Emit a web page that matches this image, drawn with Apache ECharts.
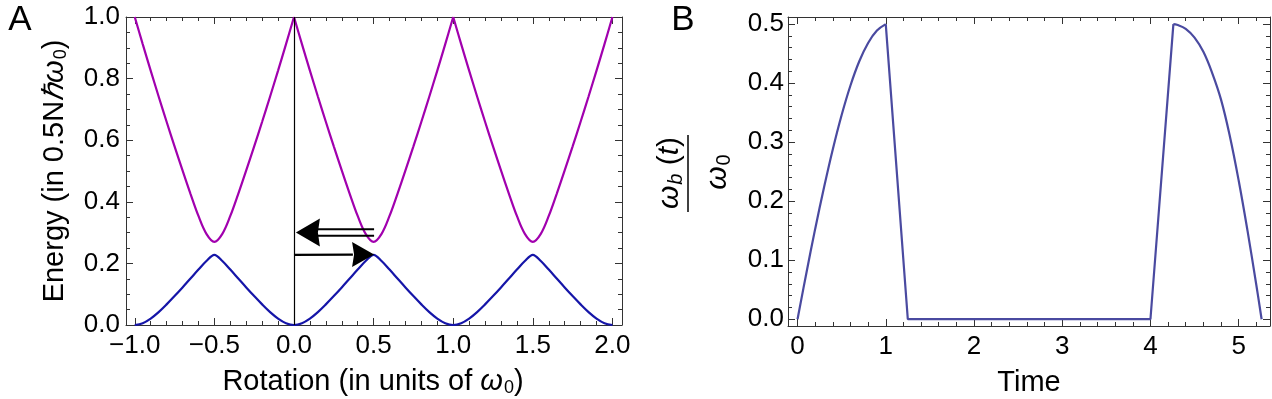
<!DOCTYPE html>
<html><head><meta charset="utf-8">
<script src="https://cdn.jsdelivr.net/npm/echarts@6.0.0/dist/echarts.min.js"></script>
<style>html,body{margin:0;padding:0;background:#fff}#c{width:1272px;height:399px}</style>
</head><body><div id="c"></div>
<script>
// ---------- Panel A data (Rotation vs Energy) ----------
const rotX = [-1.00,-0.95,-0.90,-0.85,-0.80,-0.75,-0.70,-0.65,-0.60,-0.55,
  -0.50,-0.45,-0.40,-0.35,-0.30,-0.25,-0.20,-0.15,-0.10,-0.05,
  0.00,0.05,0.10,0.15,0.20,0.25,0.30,0.35,0.40,0.45,
  0.50,0.55,0.60,0.65,0.70,0.75,0.80,0.85,0.90,0.95,
  1.00,1.05,1.10,1.15,1.20,1.25,1.30,1.35,1.40,1.45,
  1.50,1.55,1.60,1.65,1.70,1.75,1.80,1.85,1.90,1.95,2.00];
const upperBand = [1.0,0.912,0.826,0.742,0.66,0.58,0.502,0.426,0.354,0.296,
  0.27,0.296,0.354,0.426,0.502,0.58,0.66,0.742,0.826,0.912,
  1.0,0.912,0.826,0.742,0.66,0.58,0.502,0.426,0.354,0.296,
  0.27,0.296,0.354,0.426,0.502,0.58,0.66,0.742,0.826,0.912,
  1.0,0.912,0.826,0.742,0.66,0.58,0.502,0.426,0.354,0.296,
  0.27,0.296,0.354,0.426,0.502,0.58,0.66,0.742,0.826,0.912,1.0];
const lowerBand = [0,0.006,0.021,0.042,0.067,0.094,0.122,0.151,0.18,0.208,
  0.228,0.208,0.18,0.151,0.122,0.094,0.067,0.042,0.021,0.006,
  0,0.006,0.021,0.042,0.067,0.094,0.122,0.151,0.18,0.208,
  0.228,0.208,0.18,0.151,0.122,0.094,0.067,0.042,0.021,0.006,
  0,0.006,0.021,0.042,0.067,0.094,0.122,0.151,0.18,0.208,
  0.228,0.208,0.18,0.151,0.122,0.094,0.067,0.042,0.021,0.006,0];
// upper band has sharp cusps at integer rotation: drawn piecewise between them
const upperCusps = [-1, 0, 1, 2];
// arrows (data coordinates)
const arrowLeftShaftA = [[0.13,0.311],[0.503,0.311]];
const arrowLeftShaftB = [[0.13,0.290],[0.503,0.290]];
const arrowLeftTip = [[0.012,0.300]];
const arrowRightShaft = [[0.0,0.2276],[0.37,0.2285]];
const arrowRightTip = [[0.503,0.229]];
const aXTicks = [-1,-0.5,0,0.5,1,1.5,2];
const aYTicks = [0,0.2,0.4,0.6,0.8,1.0];

// ---------- Panel B data (Time vs omega_b/omega_0) ----------
const timeRise = [0,0.1,0.2,0.3,0.4,0.5,0.6,0.7,0.8,0.9,1.0];
const valRise  = [0,0.078,0.153,0.223,0.288,0.346,0.396,0.437,0.468,0.489,0.5];
const timeFlat = [1.0,1.25,4.0,4.26];
const valFlat  = [0.5,0,0,0.5];
const timeFall = [4.26,4.3,4.4,4.5,4.6,4.7,4.8,4.9,5.0,5.1,5.2,5.26];
const valFall  = [0.5,0.499,0.492,0.477,0.453,0.417,0.372,0.31,0.235,0.15,0.058,0];
const bXTicks = [0,1,2,3,4,5];
const bYTicks = [0,0.1,0.2,0.3,0.4,0.5];

// ---------- helpers ----------
const FONT = 'Liberation Sans, Arial, Helvetica, sans-serif';
const FRAME = '#333';
const zip = (xs, ys) => xs.map((x, i) => [x, ys[i]]);
function steps(a, b, s, skip) {
  const out = [];
  const n = Math.round((b - a) / s);
  for (let i = 0; i <= n; i++) {
    const v = +(a + i * s).toFixed(4);
    if (!skip.some(m => Math.abs(m - v) < 1e-6)) out.push(v);
  }
  return out;
}
function axisSet(dim, grid, min, max, majors, minors, fmt, margin) {
  const pos = dim === 'x' ? ['bottom', 'top'] : ['left', 'right'];
  const base = {type: 'value', gridIndex: grid, min: min, max: max, splitLine: {show: false}};
  const axes = [];
  pos.forEach((p, k) => {
    axes.push(Object.assign({}, base, {
      position: p,
      axisLine: {show: true, onZero: false, lineStyle: {color: FRAME, width: 1}},
      axisTick: {show: true, inside: true, length: 7, customValues: majors, lineStyle: {color: FRAME, width: 1}},
      axisLabel: k === 0 ? {show: true, customValues: majors, formatter: fmt, fontSize: 26,
        fontFamily: FONT, color: '#000', margin: margin} : {show: false}
    }));
    axes.push(Object.assign({}, base, {
      position: p,
      axisLine: {show: false, onZero: false},
      axisTick: {show: true, inside: true, length: 4, customValues: minors, lineStyle: {color: FRAME, width: 1}},
      axisLabel: {show: false}
    }));
  });
  return axes;
}
const f1 = v => (v < 0 ? '\u2212' : '') + Math.abs(v).toFixed(1);
const f0 = v => String(Math.round(v));

const xAxes = [].concat(
  axisSet('x', 0, -1.055, 2.06, aXTicks, steps(-1, 2, 0.1, aXTicks), f1, 8),
  axisSet('x', 1, -0.108, 5.355, bXTicks, steps(0, 5.2, 0.2, bXTicks), f0, 8)
);
const yAxes = [].concat(
  axisSet('y', 0, 0, 1, aYTicks, steps(0, 1, 0.05, aYTicks), f1, 6),
  axisSet('y', 1, -0.0115, 0.512, bYTicks, steps(0, 0.5, 0.02, bYTicks), f1, 4)
);

const leftHead = 'path://M24,0L0,14L24,28L22,14Z';
const rightHead = 'path://M0,0L22,12.5L0,25L2,12.5Z';
const TS = 29;
const sub = {fontSize: 18, fontFamily: FONT, fill: '#000', padding: [12, 0, 0, 1]};
const ital = {fontSize: TS, fontFamily: FONT, fontStyle: 'italic', fill: '#000'};

const upperPts = zip(rotX, upperBand);
const upperSeries = [];
for (let k = 0; k < upperCusps.length - 1; k++) {
  const seg = upperPts.filter(p => p[0] >= upperCusps[k] - 1e-9 && p[0] <= upperCusps[k + 1] + 1e-9);
  const s = {type: 'line', xAxisIndex: 0, yAxisIndex: 0, data: seg, showSymbol: false,
    smooth: 0.35, lineStyle: {color: '#A100AE', width: 2.2}, z: 3};
  if (k === 0) {
    s.markLine = {silent: true, symbol: 'none', label: {show: false},
      lineStyle: {color: '#000', width: 1.2, type: 'solid'}, data: [{xAxis: 0}]};
  }
  upperSeries.push(s);
}

const option = {
  animation: false,
  backgroundColor: '#fff',
  grid: [
    {left: 126, top: 17, width: 496, height: 308},
    {left: 788, top: 17, width: 482, height: 309}
  ],
  xAxis: xAxes,
  yAxis: yAxes,
  series: upperSeries.concat([
    {type: 'line', xAxisIndex: 0, yAxisIndex: 0, data: zip(rotX, lowerBand), showSymbol: false,
     smooth: 0.35, lineStyle: {color: '#1515A8', width: 2.2}, z: 3},
    {type: 'line', xAxisIndex: 0, yAxisIndex: 0, data: arrowLeftShaftA, showSymbol: false,
     lineStyle: {color: '#000', width: 2}, z: 4},
    {type: 'line', xAxisIndex: 0, yAxisIndex: 0, data: arrowLeftShaftB, showSymbol: false,
     lineStyle: {color: '#000', width: 2}, z: 4},
    {type: 'line', xAxisIndex: 0, yAxisIndex: 0, data: arrowRightShaft, showSymbol: false,
     lineStyle: {color: '#000', width: 2.2}, z: 4},
    {type: 'scatter', xAxisIndex: 0, yAxisIndex: 0, data: arrowLeftTip, symbol: leftHead,
     symbolSize: [24, 28], symbolOffset: [12, 0], itemStyle: {color: '#000', opacity: 1}, z: 5, silent: true},
    {type: 'scatter', xAxisIndex: 0, yAxisIndex: 0, data: arrowRightTip, symbol: rightHead,
     symbolSize: [22, 25], symbolOffset: [-11, 0], itemStyle: {color: '#000', opacity: 1}, z: 5, silent: true},
    {type: 'line', xAxisIndex: 4, yAxisIndex: 4, data: zip(timeRise, valRise), showSymbol: false,
     smooth: 0.4, lineStyle: {color: '#4A4AA0', width: 2.2}},
    {type: 'line', xAxisIndex: 4, yAxisIndex: 4, data: zip(timeFlat, valFlat), showSymbol: false,
     lineStyle: {color: '#4A4AA0', width: 2.2}},
    {type: 'line', xAxisIndex: 4, yAxisIndex: 4, data: zip(timeFall, valFall), showSymbol: false,
     smooth: 0.4, lineStyle: {color: '#4A4AA0', width: 2.2}}
  ]),
  graphic: [
    {type: 'text', x: 20, y: 20, style: {text: 'A', fontSize: 35, fontFamily: FONT, fill: '#000', align: 'center', verticalAlign: 'middle'}},
    {type: 'text', x: 683, y: 20, style: {text: 'B', fontSize: 35, fontFamily: FONT, fill: '#000', align: 'center', verticalAlign: 'middle'}},
    {type: 'text', x: 55, y: 171, rotation: Math.PI / 2,
     style: {text: 'Energy (in 0.5N{i|\u210F\u03C9}{s|0})', fontSize: TS, fontFamily: FONT, fill: '#000',
       align: 'center', verticalAlign: 'middle', rich: {i: ital, s: sub}}},
    {type: 'text', x: 373, y: 382,
     style: {text: 'Rotation (in units of {i|\u03C9}{s|0})', fontSize: TS, fontFamily: FONT, fill: '#000',
       align: 'center', verticalAlign: 'middle', rich: {i: ital, s: sub}}},
    {type: 'text', x: 1029, y: 383,
     style: {text: 'Time', fontSize: TS, fontFamily: FONT, fill: '#000', align: 'center', verticalAlign: 'middle'}},
    {type: 'text', x: 670, y: 173, rotation: Math.PI / 2,
     style: {text: '{i|\u03C9}{b|b}{n| (}{i|t}{n|)}', fontSize: 30, fontFamily: FONT, fill: '#000',
       align: 'center', verticalAlign: 'middle',
       rich: {i: {fontSize: 30, fontFamily: FONT, fontStyle: 'italic', fill: '#000'},
              b: {fontSize: 20, fontFamily: FONT, fontStyle: 'italic', fill: '#000', padding: [13, 0, 0, 1]},
              n: {fontSize: 30, fontFamily: FONT, fill: '#000'}}}},
    {type: 'line', shape: {x1: 688, y1: 135, x2: 688, y2: 212}, style: {stroke: '#000', lineWidth: 1.5}},
    {type: 'text', x: 718, y: 172, rotation: Math.PI / 2,
     style: {text: '{i|\u03C9}{s|0}', fontSize: 30, fontFamily: FONT, fill: '#000',
       align: 'center', verticalAlign: 'middle',
       rich: {i: {fontSize: 30, fontFamily: FONT, fontStyle: 'italic', fill: '#000'},
              s: {fontSize: 20, fontFamily: FONT, fill: '#000', padding: [13, 0, 0, 1]}}}}
  ]
};
const chart = echarts.init(document.getElementById('c'), null, {renderer: 'canvas'});
chart.setOption(option);
</script></body></html>
